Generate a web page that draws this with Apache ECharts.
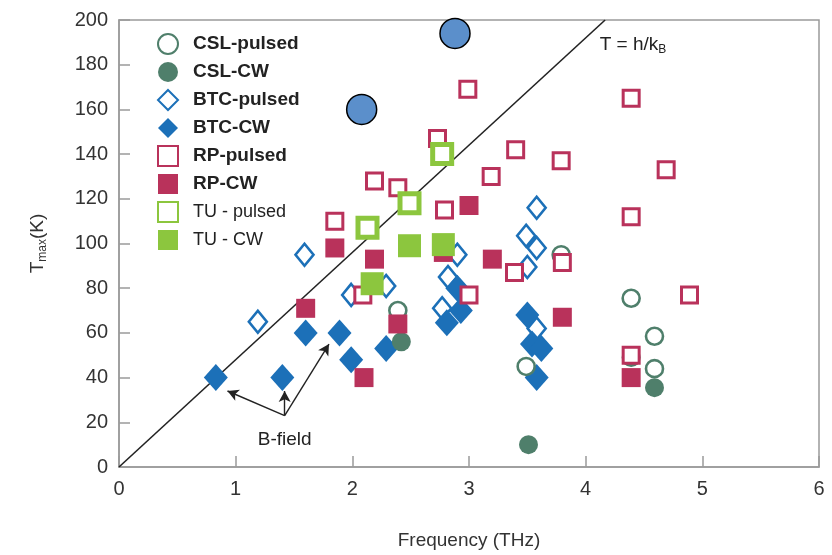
<!DOCTYPE html>
<html><head><meta charset="utf-8">
<script src="https://cdn.jsdelivr.net/npm/echarts@6/dist/echarts.min.js"></script>
<style>html,body{margin:0;padding:0;background:#fff}#c{width:832px;height:555px}</style>
</head><body><div id="c"></div>
<script>
const xTicks = [0, 1, 2, 3, 4, 5, 6];
const yTicks = [0, 20, 40, 60, 80, 100, 120, 140, 160, 180, 200];
const seriesNames = ['CSL-pulsed','CSL-CW','BTC-pulsed','BTC-CW','RP-pulsed','RP-CW','TU - pulsed','TU - CW'];
const cslPulsed = [[2.39,70],[3.49,45],[3.79,95],[4.39,75.5],[4.59,58.5],[4.59,44]];
const cslCW = [[2.42,56],[3.51,10],[4.59,35.5],[4.39,49]];
const btcPulsed = [[1.19,65],[1.59,95],[1.99,77],[2.29,81],[2.77,71],[2.82,85],[2.9,95],[3.49,103.5],[3.5,89.5],[3.58,116],[3.58,98],[3.58,62]];
const btcCW = [[0.83,40],[1.4,40],[1.6,60],[1.89,60],[1.99,48],[2.29,53],[2.81,64.5],[2.93,70],[2.9,80],[3.5,68],[3.54,55],[3.62,53],[3.58,40]];
const rpPulsed = [[1.85,110],[2.19,128],[2.39,125],[2.09,77],[2.73,147],[2.99,169],[2.79,115],[3.19,130],[3.4,142],[3.79,137],[3.8,91.5],[3.39,87],[3.0,77],[4.39,165],[4.39,112],[4.69,133],[4.89,77],[4.39,50]];
const rpCW = [[1.6,71],[1.85,98],[2.1,40],[2.19,93],[2.39,64],[2.78,96],[3.0,117],[3.2,93],[3.8,67],[4.39,40]];
const tuPulsed = [[2.13,107],[2.49,118],[2.77,140]];
const tuCW = [[2.17,82],[2.49,99],[2.78,99.5]];
const highlighted = [[2.08,160],[2.88,194]];
const limitLine = [[0,0],[4.1667,200]];
const bFieldOrigin = [1.42,23];
const bFieldTargets = [[0.93,34],[1.42,34],[1.8,55]];
const bFieldLabel = [1.42,12];
const limitLabel = [4.12,189];

const C_CSL = '#4f7f6b', C_BTC = '#1c70b8', C_RP = '#b9325b', C_TU = '#8cc63e';
const FONT = "'Liberation Sans Narrow','Liberation Sans',Arial,sans-serif";

function openS(name, data, sym, size, color, bw) {
  return {name, type:'scatter', data, symbol:sym, symbolSize:size,
    itemStyle:{color:'#fff', borderColor:color, borderWidth:bw, opacity:1}};
}
function fillS(name, data, sym, size, color) {
  return {name, type:'scatter', data, symbol:sym, symbolSize:size,
    itemStyle:{color:color, borderWidth:0, opacity:1}};
}

const chart = echarts.init(document.getElementById('c'), null, {renderer:'canvas'});
chart.setOption({
  animation:false,
  backgroundColor:'#fff',
  grid:{left:119, right:13, top:20, bottom:85, show:true, borderColor:'#9a9a9a', borderWidth:1.5},
  xAxis:{type:'value', min:0, max:6, interval:1,
    name:'Frequency (THz)', nameLocation:'middle', nameGap:64,
    nameTextStyle:{fontFamily:FONT, fontSize:19, color:'#333'},
    axisLine:{lineStyle:{color:'#9a9a9a', width:1.5}},
    axisTick:{inside:true, length:11, lineStyle:{color:'#9a9a9a', width:1.5}},
    axisLabel:{fontFamily:FONT, fontSize:20, color:'#333', margin:12,
      formatter:v=>xTicks.includes(v)?String(v):''},
    splitLine:{show:false}},
  yAxis:{type:'value', min:0, max:200, interval:20,
    name:'{t|T}{s|max}{t|(K)}', nameLocation:'middle', nameGap:70, nameRotate:90,
    nameTextStyle:{rich:{t:{fontFamily:FONT, fontSize:19, color:'#333'}, s:{fontFamily:FONT, fontSize:12, color:'#333', verticalAlign:'bottom', padding:[10,0,0,0]}}},
    axisLine:{lineStyle:{color:'#9a9a9a', width:1.5}},
    axisTick:{inside:true, length:11, lineStyle:{color:'#9a9a9a', width:1.5}},
    axisLabel:{fontFamily:FONT, fontSize:20, color:'#333', margin:11,
      formatter:v=>yTicks.includes(v)?String(v):''},
    splitLine:{show:false}},
  legend:{orient:'vertical', left:152, top:28, itemWidth:20, itemHeight:20, itemGap:7,
    data:seriesNames,
    formatter:n=>n.startsWith('TU')?'{n|'+n+'}':'{b|'+n+'}',
    textStyle:{padding:[0,0,0,10], rich:{
      b:{fontFamily:FONT, fontSize:19, fontWeight:'bold', color:'#222'},
      n:{fontFamily:FONT, fontSize:18, color:'#222'}}}},
  series:[
    {name:'limit', type:'line', data:limitLine, symbol:'none', silent:true,
      lineStyle:{color:'#222', width:1.6}, z:1,
      markPoint:{symbol:'circle', symbolSize:0, silent:true,
        data:[{coord:limitLabel, label:{show:true, position:'right', distance:0,
          formatter:'{a|T = h/k}{b|B}',
          rich:{a:{fontFamily:FONT, fontSize:19, color:'#222'}, b:{fontFamily:FONT, fontSize:12, color:'#222', verticalAlign:'bottom', padding:[10,0,0,0]}}}},
          {coord:bFieldLabel, label:{show:true, position:'inside', formatter:'B-field',
          fontFamily:FONT, fontSize:19, color:'#222'}}]},
      markLine:{silent:true, symbol:['none','arrow'], symbolSize:[9,11],
        lineStyle:{color:'#222', width:1.4, type:'solid'}, label:{show:false},
        data:bFieldTargets.map(t=>[{coord:bFieldOrigin},{coord:t}])}},
    openS('BTC-pulsed', btcPulsed, 'diamond', [18,22], C_BTC, 2.6),
    fillS('BTC-CW', btcCW, 'diamond', [24,27], C_BTC),
    openS('CSL-pulsed', cslPulsed, 'circle', 17, C_CSL, 2.6),
    fillS('CSL-CW', cslCW, 'circle', 19, C_CSL),
    openS('RP-pulsed', rpPulsed, 'rect', 16, C_RP, 3),
    fillS('RP-CW', rpCW, 'rect', 19, C_RP),
    openS('TU - pulsed', tuPulsed, 'rect', 19, C_TU, 5),
    fillS('TU - CW', tuCW, 'rect', 23, C_TU),
    {name:'highlight', type:'scatter', data:highlighted, symbol:'circle', symbolSize:30,
      itemStyle:{color:'#5b8fcb', borderColor:'#000', borderWidth:1.5, opacity:1}, z:5}
  ]
});
</script></body></html>
